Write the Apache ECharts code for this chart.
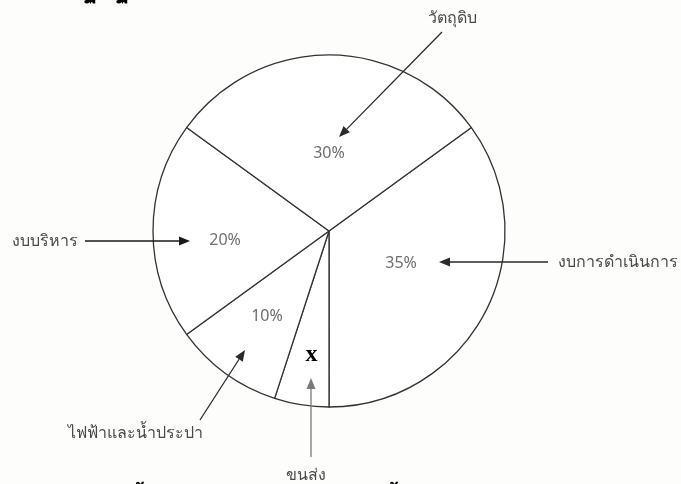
<!DOCTYPE html>
<html>
<head>
<meta charset="utf-8">
<script src="https://cdn.jsdelivr.net/npm/echarts@6/dist/echarts.min.js"></script>
<style>
  html, body { margin: 0; padding: 0; background: #fdfdfb; }
  #chart { width: 681px; height: 484px; }
</style>
</head>
<body>
<div id="chart"></div>
<script>
// Budget shares, listed clockwise starting from the upper-right boundary
const categories = ['งบการดำเนินการ', 'ขนส่ง', 'ไฟฟ้าและน้ำประปา', 'งบบริหาร', 'วัตถุดิบ'];
const shares = [35, 5, 10, 20, 30];
// Text printed inside each slice (the transport share is the unknown "x")
const shareLabels = ['35%', 'x', '10%', '20%', '30%'];

const PIE_CX = 329, PIE_CY = 231, PIE_R = 176;
const RAD = Math.PI / 180;

// Placement of the in-slice text: fraction of radius, angular nudge (deg, counter-clockwise)
const innerPlacement = [[0.448, 3], [0.71, 1], [0.60, 0], [0.593, 5], [0.443, 0]];

// Call-out text and arrows, as offsets from the pie centre
const callouts = [
  { text: [229, 31], align: 'left',   tail: [219, 31],   tip: [110, 31],  color: '#2a2a2a' },
  { text: [-23, 244], align: 'center', tail: [-18, 226],  tip: [-18, 147], color: '#7a7a7a' },
  { text: [-126, 202], align: 'right', tail: [-129, 189], tip: [-84, 119], color: '#2a2a2a' },
  { text: [-251, 10], align: 'right',  tail: [-244, 10],  tip: [-139, 10], color: '#1a1a1a' },
  { text: [123, -213], align: 'center', tail: [113, -199], tip: [10, -94], color: '#2a2a2a' }
];

const chart = echarts.init(document.getElementById('chart'), null, { renderer: 'canvas' });

const thaiFont = '"Noto Sans", "DejaVu Sans", sans-serif';

function arrowElements(c) {
  const tx = PIE_CX + c.tail[0], ty = PIE_CY + c.tail[1];
  const px = PIE_CX + c.tip[0], py = PIE_CY + c.tip[1];
  const len = Math.hypot(px - tx, py - ty);
  const ux = (px - tx) / len, uy = (py - ty) / len;
  const nx = -uy, ny = ux;
  const L = 11, W = 4.5;
  const bx = px - L * ux, by = py - L * uy;
  return [
    {
      type: 'line', z: 20,
      shape: { x1: tx, y1: ty, x2: bx, y2: by },
      style: { stroke: c.color, lineWidth: 1.3 }
    },
    {
      type: 'polygon', z: 20,
      shape: { points: [[px, py], [bx + W * nx, by + W * ny], [bx - W * nx, by - W * ny]] },
      style: { fill: c.color }
    }
  ];
}

const graphics = [];
callouts.forEach(function (c, i) {
  graphics.push.apply(graphics, arrowElements(c));
  graphics.push({
    type: 'text', z: 20,
    x: PIE_CX + c.text[0],
    y: PIE_CY + c.text[1],
    style: {
      text: categories[i],
      fill: '#4a4a4a',
      font: '16px ' + thaiFont,
      align: c.align,
      verticalAlign: 'middle'
    }
  });
});

// Heading above and caption below run past the page edges
function edgeText(txt, x, y, size) {
  return { type: 'text', z: 20, x: x, y: y,
    style: { text: txt, fill: '#000', font: 'bold ' + size + 'px ' + thaiFont, align: 'left', verticalAlign: 'top' } };
}
graphics.push(
  edgeText('ฐ', 84, -22, 24),
  edgeText('ฐ', 116, -22, 24),
  edgeText('ทั้ง', 130, 487, 20),
  edgeText('นั้น', 384, 487, 20)
);

chart.setOption({
  backgroundColor: '#fdfdfb',
  animation: false,
  series: [{
    type: 'pie',
    center: [PIE_CX, PIE_CY],
    radius: PIE_R,
    startAngle: 36,
    clockwise: true,
    silent: true,
    z: 2,
    data: categories.map(function (name, i) {
      const item = { name: name, value: shares[i] };
      if (shareLabels[i] === 'x') {
        // the unknown share is set in a bold serif on a white patch
        item.label = {
          color: '#000000', fontFamily: '"Liberation Serif", "DejaVu Serif", serif',
          fontWeight: 'bold', fontSize: 24, backgroundColor: '#ffffff', padding: [0, 3]
        };
      }
      return item;
    }),
    itemStyle: { color: '#ffffff', borderColor: '#333333', borderWidth: 1.3 },
    label: {
      show: true,
      position: 'inside',
      formatter: function (p) { return shareLabels[p.dataIndex]; },
      color: '#6e6e6e',
      fontSize: 16,
      fontFamily: thaiFont
    },
    labelLine: { show: false },
    labelLayout: function (p) {
      const lay = chart.getModel().getSeriesByIndex(0).getData().getItemLayout(p.dataIndex);
      const mid = (lay.startAngle + lay.endAngle) / 2;
      const pl = innerPlacement[p.dataIndex];
      const a = mid - pl[1] * RAD;
      return {
        x: lay.cx + Math.cos(a) * lay.r * pl[0],
        y: lay.cy + Math.sin(a) * lay.r * pl[0],
        align: 'center',
        verticalAlign: 'middle'
      };
    }
  }],
  graphic: graphics
});
</script>
</body>
</html>
